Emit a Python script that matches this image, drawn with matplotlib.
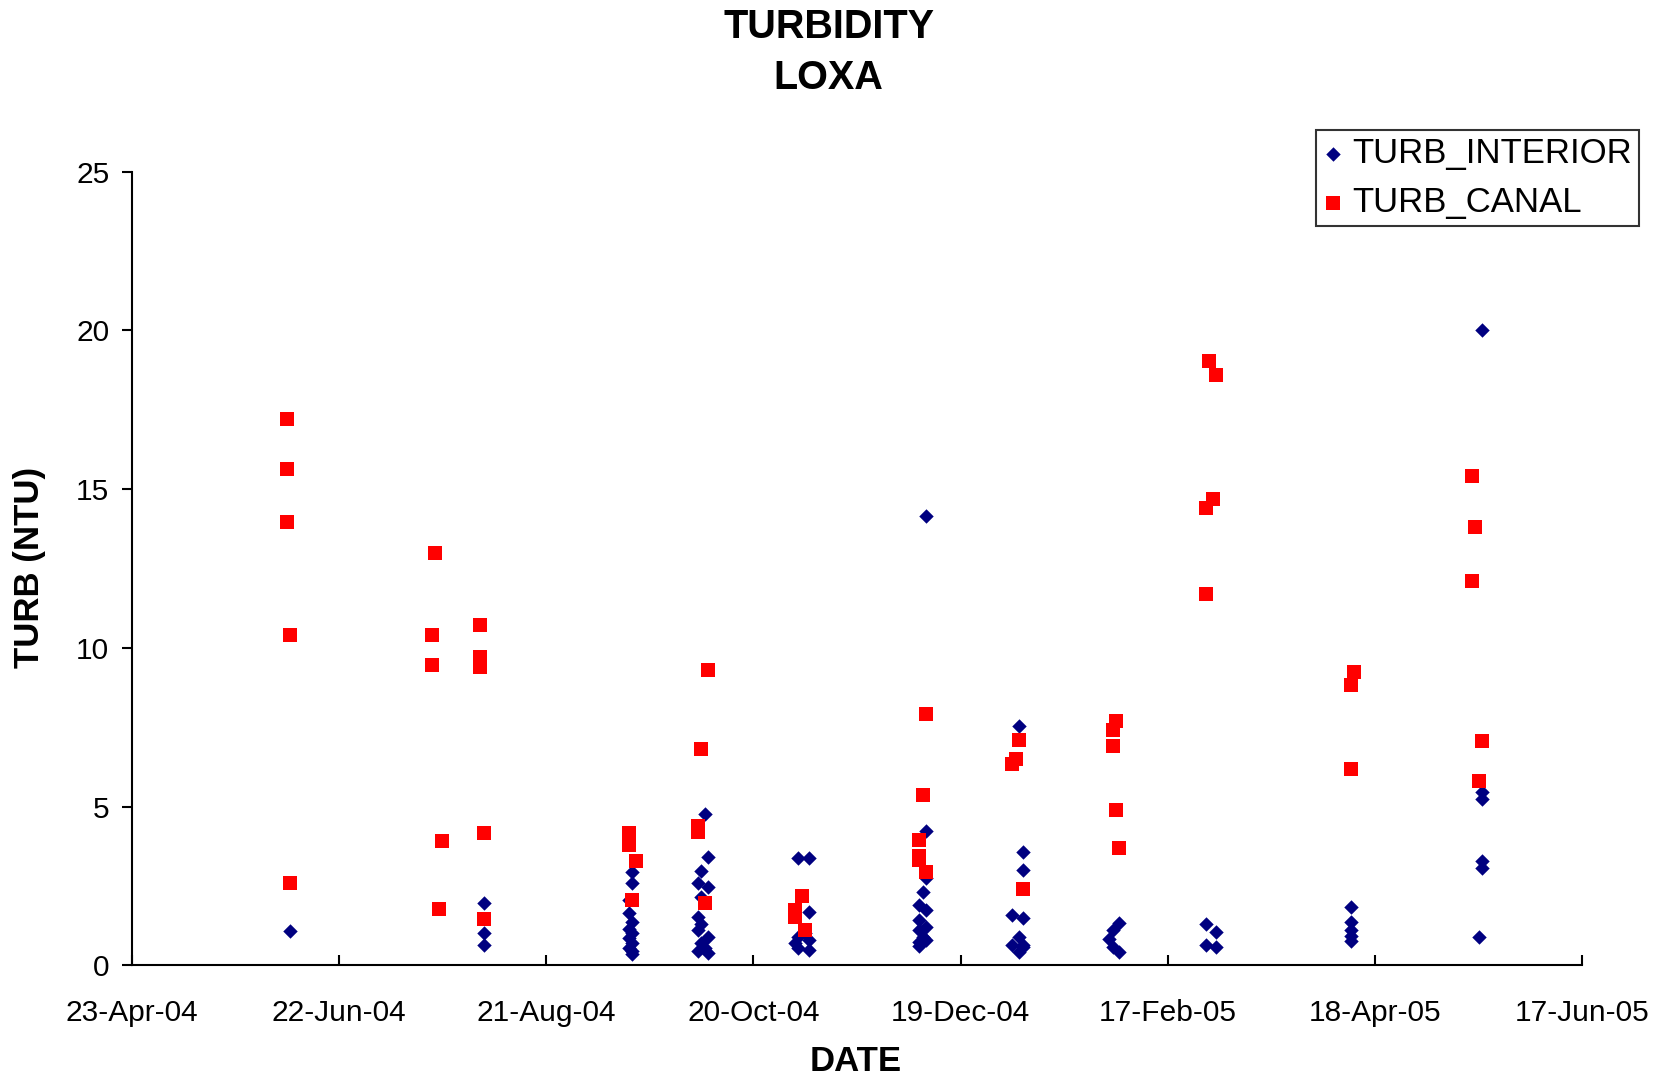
import matplotlib
matplotlib.use("Agg")
import matplotlib.pyplot as plt
import matplotlib.dates as mdates
import pandas as pd

plt.rcParams['font.family'] = ['Liberation Sans', 'DejaVu Sans']

# ---------------- data ----------------
interior_dates = [
    "2004-06-08",
    "2004-08-03", "2004-08-03", "2004-08-03",
    "2004-09-15", "2004-09-15", "2004-09-14", "2004-09-14", "2004-09-15", "2004-09-14",
    "2004-09-15", "2004-09-14", "2004-09-15", "2004-09-14", "2004-09-15", "2004-09-15",
    "2004-10-06", "2004-10-07", "2004-10-05", "2004-10-04", "2004-10-07", "2004-10-05",
    "2004-10-04", "2004-10-05", "2004-10-04", "2004-10-07", "2004-10-05", "2004-10-06",
    "2004-10-04", "2004-10-07",
    "2004-11-02", "2004-11-05", "2004-11-05", "2004-11-02", "2004-11-01", "2004-11-02",
    "2004-11-05", "2004-11-05", "2004-11-04",
    "2004-12-09", "2004-12-09", "2004-12-09", "2004-12-08", "2004-12-07", "2004-12-09",
    "2004-12-07", "2004-12-07", "2004-12-08", "2004-12-07", "2004-12-07", "2004-12-09",
    "2004-12-09",
    "2005-01-05", "2005-01-06", "2005-01-06", "2005-01-03", "2005-01-06", "2005-01-05",
    "2005-01-03", "2005-01-06", "2005-01-06", "2005-01-05",
    "2005-02-03", "2005-02-01", "2005-01-31", "2005-02-01", "2005-02-03",
    "2005-02-28", "2005-03-03", "2005-02-28", "2005-03-03",
    "2005-04-11", "2005-04-11", "2005-04-11", "2005-04-11", "2005-04-11",
    "2005-05-19", "2005-05-19", "2005-05-19", "2005-05-19", "2005-05-19", "2005-05-18",
]
interior_vals = [
    1.08,
    1.97, 1.02, 0.65,
    2.95, 2.6, 2.05, 1.65, 1.35, 1.15,
    1.0, 0.85, 0.7, 0.55, 0.45, 0.35,
    4.77, 3.42, 2.98, 2.58, 2.45, 2.15,
    1.53, 1.3, 1.1, 0.9, 0.7, 0.55,
    0.45, 0.4,
    3.39, 3.39, 1.68, 0.9, 0.69, 0.53,
    0.48, 0.79, 1.0,
    14.15, 4.23, 2.74, 2.3, 1.89, 1.74,
    1.42, 1.1, 0.9, 0.74, 0.6, 1.2,
    0.8,
    7.55, 3.57, 3.0, 1.58, 1.5, 0.9,
    0.63, 0.58, 0.63, 0.42,
    1.34, 1.1, 0.84, 0.58, 0.42,
    1.3, 1.05, 0.63, 0.57,
    1.84, 1.36, 1.1, 0.92, 0.75,
    20.0, 5.45, 5.25, 3.28, 3.05, 0.88,
]

canal_dates = [
    "2004-06-07", "2004-06-07", "2004-06-07", "2004-06-08", "2004-06-08",
    "2004-07-19", "2004-07-19", "2004-07-20", "2004-07-21", "2004-07-22",
    "2004-08-02", "2004-08-02", "2004-08-02", "2004-08-03", "2004-08-03",
    "2004-09-14", "2004-09-14", "2004-09-15", "2004-09-16",
    "2004-10-04", "2004-10-04", "2004-10-05", "2004-10-06", "2004-10-07",
    "2004-11-01", "2004-11-01", "2004-11-03", "2004-11-04",
    "2004-12-07", "2004-12-07", "2004-12-07", "2004-12-08", "2004-12-09", "2004-12-09",
    "2005-01-03", "2005-01-04", "2005-01-05", "2005-01-06",
    "2005-02-01", "2005-02-01", "2005-02-02", "2005-02-02", "2005-02-03",
    "2005-02-28", "2005-02-28", "2005-03-01", "2005-03-02", "2005-03-03",
    "2005-04-11", "2005-04-11", "2005-04-12",
    "2005-05-16", "2005-05-16", "2005-05-17", "2005-05-18", "2005-05-19",
]
canal_vals = [
    17.2, 15.65, 13.95, 10.4, 2.6,
    10.4, 9.45, 13.0, 1.78, 3.92,
    10.72, 9.72, 9.4, 4.17, 1.47,
    4.15, 3.8, 2.05, 3.27,
    4.4, 4.2, 6.8, 1.95, 9.3,
    1.74, 1.53, 2.18, 1.1,
    3.95, 3.45, 3.3, 5.35, 7.9, 2.95,
    6.35, 6.5, 7.1, 2.4,
    7.4, 6.9, 7.68, 4.9, 3.68,
    14.42, 11.7, 19.05, 14.68, 18.6,
    8.82, 6.17, 9.25,
    15.4, 12.1, 13.8, 5.8, 7.05,
]

x_start = "2004-04-23"
x_end = "2005-06-17"
x_step_days = 60
y_ticks = [0, 5, 10, 15, 20, 25]

# ---------------- figure ----------------
W, H = 1663, 1078
fig = plt.figure(figsize=(W / 100, H / 100), dpi=100)
ax = fig.add_axes([131.5 / W, 1 - 965.2 / H, (1582.4 - 131.5) / W, (965.2 - 171.8) / H])

idates = pd.to_datetime(interior_dates)
cdates = pd.to_datetime(canal_dates)

ax.scatter(idates, interior_vals, marker='D', s=54, color='#000080',
           linewidths=0, label='TURB_INTERIOR', zorder=3, clip_on=False)
ax.scatter(cdates, canal_vals, marker='s', s=104, color='#FF0000',
           linewidths=0, label='TURB_CANAL', zorder=4, clip_on=False)

start = pd.Timestamp(x_start)
end = pd.Timestamp(x_end)
xticks = pd.date_range(start, end, freq=f"{x_step_days}D")
ax.set_xlim(start, end)
ax.set_xticks(xticks)
ax.xaxis.set_major_formatter(mdates.DateFormatter('%d-%b-%y'))
ax.set_ylim(0, 25)
ax.set_yticks(y_ticks)

for s in ['top', 'right']:
    ax.spines[s].set_visible(False)
for s in ['left', 'bottom']:
    ax.spines[s].set_linewidth(1.5)
    ax.spines[s].set_color('black')

ax.tick_params(axis='x', direction='in', length=7, width=1.5, labelsize=21.5, pad=24)
ax.tick_params(axis='y', direction='out', length=7, width=1.5, labelsize=21.5, pad=9)

fig.text(828.5 / W, 1 - 38.3 / H, 'TURBIDITY', ha='center', va='baseline',
         fontsize=28.5, fontweight='bold')
fig.text(828.5 / W, 1 - 89.3 / H, 'LOXA', ha='center', va='baseline',
         fontsize=28.5, fontweight='bold')
fig.text(856 / W, 1 - 1061.5 / H, 'DATE', ha='center', va='center',
         fontsize=25, fontweight='bold')
fig.text(29.5 / W, 1 - 567 / H, 'TURB (NTU)', ha='center', va='center',
         rotation=90, fontsize=25, fontweight='bold')

leg = ax.legend(loc='upper left', bbox_to_anchor=(1315.7 / W, 1 - 130 / H),
                bbox_transform=fig.transFigure, borderaxespad=0,
                fontsize=25, frameon=True, fancybox=False, edgecolor='black',
                handlelength=0.6, handletextpad=0.25, labelspacing=0.46,
                borderpad=0.2, scatterpoints=1)
leg.get_frame().set_linewidth(1.5)

fig.savefig('out.png', dpi=100, facecolor='white')
